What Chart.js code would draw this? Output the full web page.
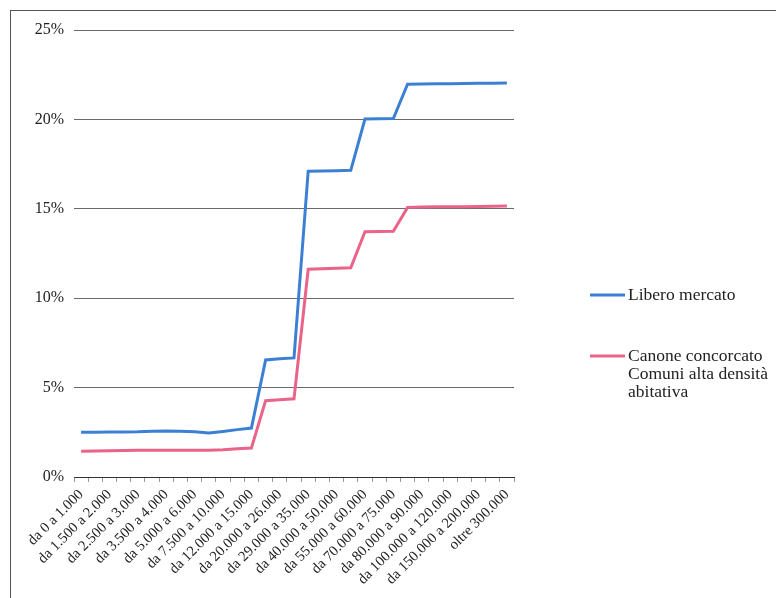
<!DOCTYPE html>
<html><head><meta charset="utf-8">
<script src="https://cdn.jsdelivr.net/npm/chart.js@4"></script>
<style>
html,body{margin:0;padding:0;background:#fff;overflow:hidden;width:776px;height:598px;}
#wrap{position:absolute;left:0;top:0;width:776px;height:598px;}
#frame{position:absolute;left:10px;top:10px;width:900px;height:700px;border:1px solid #555;box-sizing:border-box;}
canvas{position:absolute;left:0;top:0;}
</style></head><body>
<div id="wrap"><div id="frame"></div><canvas id="c" width="776" height="598"></canvas></div>
<script>
const categories = [
  "da 0 a 1.000","da 1.000 a 1.500","da 1.500 a 2.000","da 2.000 a 2.500","da 2.500 a 3.000",
  "da 3.000 a 3.500","da 3.500 a 4.000","da 4.000 a 5.000","da 5.000 a 6.000","da 6.000 a 7.500",
  "da 7.500 a 10.000","da 10.000 a 12.000","da 12.000 a 15.000","da 15.000 a 20.000","da 20.000 a 26.000",
  "da 26.000 a 29.000","da 29.000 a 35.000","da 35.000 a 40.000","da 40.000 a 50.000","da 50.000 a 55.000",
  "da 55.000 a 60.000","da 60.000 a 70.000","da 70.000 a 75.000","da 75.000 a 80.000","da 80.000 a 90.000",
  "da 90.000 a 100.000","da 100.000 a 120.000","da 120.000 a 150.000","da 150.000 a 200.000","da 200.000 a 300.000",
  "oltre 300.000"
];
const liberoMercato = [
  2.50, 2.50, 2.51, 2.52, 2.53, 2.56, 2.57, 2.56, 2.53, 2.46,
  2.55, 2.65, 2.74, 6.55, 6.62, 6.66, 17.10, 17.12, 17.13, 17.15,
  20.02, 20.04, 20.05, 21.97, 21.98, 21.99, 22.00, 22.01, 22.02, 22.02,
  22.03
];
const canoneConcordato = [
  1.44, 1.46, 1.47, 1.48, 1.49, 1.49, 1.49, 1.49, 1.49, 1.50,
  1.53, 1.58, 1.62, 4.27, 4.32, 4.37, 11.62, 11.65, 11.68, 11.70,
  13.72, 13.73, 13.75, 15.08, 15.10, 15.11, 15.12, 15.12, 15.13, 15.14,
  15.15
];
const seriesNames = [["Libero mercato"], ["Canone concorcato", "Comuni alta densità", "abitativa"]];
const seriesColors = ["#3c80d4", "#ea6389"];
const yTickValues = [0, 5, 10, 15, 20, 25];
const labelEvery = 2;

const sideLegend = {
  id: 'sideLegend',
  afterDraw(chart, args, opts) {
    const ctx = chart.ctx;
    ctx.save();
    ctx.font = opts.font;
    ctx.textBaseline = 'middle';
    ctx.textAlign = 'left';
    chart.data.datasets.forEach((ds, i) => {
      const y = opts.ys[i];
      ctx.strokeStyle = ds.borderColor;
      ctx.lineWidth = 3;
      ctx.beginPath();
      ctx.moveTo(opts.x, y);
      ctx.lineTo(opts.x + opts.lineLen, y);
      ctx.stroke();
      ctx.fillStyle = opts.color;
      seriesNames[i].forEach((t, k) => ctx.fillText(t, opts.x + opts.lineLen + 3, y + k * opts.lineHeight));
    });
    ctx.restore();
  }
};

new Chart(document.getElementById('c'), {
  type: 'line',
  data: {
    labels: categories,
    datasets: [
      { label: seriesNames[0].join(' '), data: liberoMercato, borderColor: seriesColors[0], backgroundColor: seriesColors[0],
        borderWidth: 3, pointRadius: 0, tension: 0, fill: false },
      { label: seriesNames[1].join(' '), data: canoneConcordato, borderColor: seriesColors[1], backgroundColor: seriesColors[1],
        borderWidth: 3, pointRadius: 0, tension: 0, fill: false }
    ]
  },
  options: {
    responsive: false,
    animation: false,
    devicePixelRatio: 1,
    layout: { padding: { left: 10, right: 262, top: 30, bottom: 0 } },
    plugins: {
      legend: { display: false },
      tooltip: { enabled: false },
      sideLegend: { x: 590, lineLen: 35, ys: [295, 356], lineHeight: 18, font: "17.5px 'Liberation Serif'", color: '#222' }
    },
    scales: {
      x: {
        offset: true,
        grid: { display: true, drawOnChartArea: false, drawTicks: true, tickLength: 5, color: '#999', offset: true },
        border: { display: true, color: '#333', width: 1 },
        ticks: {
          autoSkip: false, minRotation: 45, maxRotation: 45, padding: 4,
          color: '#222', font: { family: 'Liberation Serif', size: 14.7 },
          callback: (v, i) => (i % labelEvery === 0 ? categories[i] : '')
        },
        afterFit: s => { s.height = 121; }
      },
      y: {
        min: 0, max: 25,
        afterBuildTicks: s => { s.ticks = yTickValues.map(v => ({ value: v })); },
        grid: { color: '#6a6a6a', drawTicks: false, lineWidth: 1 },
        border: { display: false },
        ticks: { padding: 10, color: '#222', font: { family: 'Liberation Serif', size: 16 }, callback: v => v + '%' },
        afterFit: s => { s.width = 64; }
      }
    }
  },
  plugins: [sideLegend]
});
</script>
</body></html>
